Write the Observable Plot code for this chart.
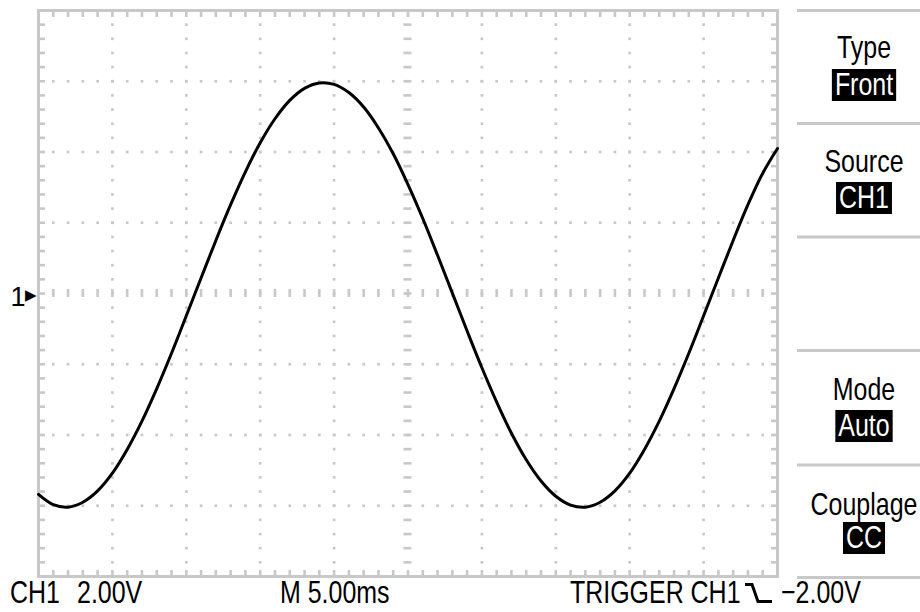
<!DOCTYPE html>
<html><head><meta charset="utf-8">
<script src="https://cdn.jsdelivr.net/npm/d3@7"></script>
<script src="https://cdn.jsdelivr.net/npm/@observablehq/plot@0.6"></script>
<style>
html,body{margin:0;padding:0;background:#fff;}
#wrap{position:relative;width:920px;height:612px;overflow:hidden;background:#fff;}
#wrap svg{position:absolute;left:0;top:0;}
</style></head><body><div id="wrap"></div>
<script>
// ---- data ----
const timeMs = [0,1,2,3,4,5,6,7,8,9,10,11,12,13,14,15,16,17,18,19,20,21,22,23,24,25,26,27,28,29,30,31,32,33,34,35,36,37,38,39,40,41,42,43,44,45,46,47,48,49,50];
const volts  = [-5.68,-5.97,-6.04,-5.90,-5.58,-5.08,-4.41,-3.61,-2.69,-1.69,-0.63,0.44,1.50,2.51,3.44,4.26,4.94,5.46,5.80,5.95,5.91,5.68,5.27,4.68,3.95,3.08,2.12,1.08,0.01,-1.06,-2.10,-3.07,-3.95,-4.70,-5.30,-5.73,-5.98,-6.04,-5.90,-5.58,-5.08,-4.41,-3.61,-2.69,-1.69,-0.63,0.44,1.50,2.51,3.40,4.10];
const xMajor = [0,5,10,15,20,25,30,35,40,45,50];      // ms (5.00 ms/div)
const yMajor = [-8,-6,-4,-2,0,2,4,6,8];              // V (2.00 V/div)
const menuLabels = ["Type","Source","Mode","Couplage"];
const menuValues = ["Front","CH1","Auto","CC"];
const channelLabel = "CH1";
const voltsLabel = "2.00V";
const timeLabel = "M 5.00ms";
const triggerLabel = "TRIGGER CH1";
const triggerLevel = "\u22122.00V";
const groundLabel = "1";

// ---- derived grid positions ----
const xMinor = d3.range(0, 51).map(i => i);
const yMinor = d3.range(-20, 21).map(i => +(i * 0.4).toFixed(2));
const xInner = xMinor.filter(v => v > 0 && v < 50);
const yInner = yMinor.filter(v => v > -8 && v < 8);
const gridDots = [];
for (const xm of xMajor) if (xm > 0 && xm < 50 && xm !== 25) for (const ym of yInner) gridDots.push({x: xm, y: ym});
for (const ym of yMajor) if (ym > -8 && ym < 8 && ym !== 0) for (const xm of xInner) gridDots.push({x: xm, y: ym});
const trace = timeMs.map((t, i) => ({t, v: volts[i]}));

const FONT = "'Liberation Sans','Arial',sans-serif";
const gray = "#c8c8c8";
const W = 920, H = 612, mL = 38, mR = 143, mT = 10, mB = 36;
const fw = W - mL - mR, fh = H - mT - mB;

const plot = Plot.plot({
  width: W, height: H,
  marginLeft: mL, marginRight: mR, marginTop: mT, marginBottom: mB,
  x: {domain: [0, 50], axis: null},
  y: {domain: [-8, 8], axis: null},
  style: {background: "#fff"},
  marks: [
    Plot.dot(gridDots, {x: "x", y: "y", symbol: "square", r: 1.5, fill: gray}),
    Plot.tickX(xInner, {x: d => d, insetTop: fh / 2 - 4, insetBottom: fh / 2 - 4, stroke: gray, strokeWidth: 2.6}),
    Plot.tickY(yInner, {y: d => d, insetLeft: fw / 2 - 4, insetRight: fw / 2 - 4, stroke: gray, strokeWidth: 2.6}),
    Plot.tickX(xMinor, {x: d => d, insetBottom: fh - 7, stroke: gray, strokeWidth: 2.6}),
    Plot.tickX(xMinor, {x: d => d, insetTop: fh - 6, stroke: gray, strokeWidth: 2.6}),
    Plot.tickY(yMinor, {y: d => d, insetRight: fw - 7, stroke: gray, strokeWidth: 2.6}),
    Plot.tickY(yMinor, {y: d => d, insetLeft: fw - 6, stroke: gray, strokeWidth: 2.6}),
    Plot.frame({stroke: gray, strokeWidth: 3}),
    Plot.line(trace, {x: "t", y: "v", stroke: "#000", strokeWidth: 3, curve: "catmull-rom"}),
    Plot.text([0], {y: d => d, frameAnchor: "left", text: () => groundLabel, dx: -28, dy: 4, textAnchor: "start", fontSize: 27, fontFamily: FONT, fill: "#000"}),
    Plot.text([0], {y: d => d, frameAnchor: "left", text: () => "\u25B6", dx: -2, dy: 2, textAnchor: "end", fontSize: 15, fontFamily: "DejaVu Sans", fill: "#000"})
  ]
});
const wrap = document.getElementById("wrap");
wrap.appendChild(plot);

// ---- right-hand menu and status line (condensed text via horizontal scale) ----
const SX = 0.78;
const svg = d3.select(wrap).append("svg")
  .attr("width", W).attr("height", H)
  .style("font-family", FONT).style("font-size", "32px");

function label(parent, x, y, str, anchor, fill) {
  const g = parent.append("g").attr("transform", `translate(${x},${y}) scale(${SX},1)`);
  const t = g.append("text").attr("x", 0).attr("y", 0).attr("text-anchor", anchor).attr("fill", fill).text(str);
  return {g, t};
}

[10.5, 123.5, 237, 350.5, 465, 577.5].forEach(y => {
  svg.append("line").attr("x1", 797).attr("x2", W).attr("y1", y).attr("y2", y)
    .attr("stroke", gray).attr("stroke-width", 3);
});
const labelBase = [58, 172, 400, 515];
const boxTop = [69, 182, 410, 522];
const cx = 864;
menuLabels.forEach((lab, i) => {
  label(svg, cx, labelBase[i], lab, "middle", "#000");
  const {g, t} = label(svg, cx, boxTop[i] + 26, menuValues[i], "middle", "#fff");
  const bb = t.node().getBBox();
  const pad = 3 / SX;
  g.insert("rect", "text").attr("x", bb.x - pad).attr("y", -26).attr("width", bb.width + 2 * pad).attr("height", 32).attr("fill", "#000");
});

const base = 603;
label(svg, 10, base, channelLabel, "start", "#000");
label(svg, 77, base, voltsLabel, "start", "#000");
label(svg, 280, base, timeLabel, "start", "#000");
label(svg, 570, base, triggerLabel, "start", "#000");
svg.append("path").attr("d", "M745,584.5 H752 L758,601.5 H772").attr("fill", "none").attr("stroke", "#000").attr("stroke-width", 3);
label(svg, 781, base, triggerLevel, "start", "#000");
</script>
</body></html>
